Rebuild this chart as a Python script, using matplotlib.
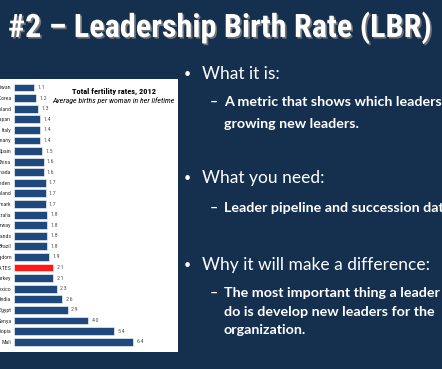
"""Slide: Leadership Birth Rate, with a fertility-rate bar chart on the left."""

import matplotlib

matplotlib.use("Agg")
import matplotlib.patheffects as pe
import matplotlib.pyplot as plt
import numpy as np
from matplotlib import font_manager
from matplotlib.patches import Rectangle

countries = [
    "Taiwan", "South Korea", "Poland", "Japan", "Italy", "Germany", "Spain",
    "China", "Canada", "Sweden", "Finland", "Denmark", "Australia", "Norway",
    "Netherlands", "Brazil", "United Kingdom", "UNITED STATES", "Turkey",
    "Mexico", "India", "Egypt", "Kenya", "Ethiopia", "Mali",
]
rates = [
    1.1, 1.2, 1.3, 1.4, 1.4, 1.4, 1.5, 1.6, 1.6, 1.7, 1.7, 1.7, 1.8, 1.8,
    1.8, 1.8, 1.9, 2.1, 2.1, 2.3, 2.6, 2.9, 4.0, 5.4, 6.4,
]
highlight = "UNITED STATES"

slide_title = "#2 \u2013 Leadership Birth Rate (LBR)"
chart_title = "Total fertility rates, 2012"
chart_subtitle = "Average births per woman in her lifetime"
bullets = [
    ("What it is:", ["A metric that shows which leaders are", "growing new leaders."]),
    ("What you need:", ["Leader pipeline and succession data"]),
    ("Why it will make a difference:", [
        "The most important thing a leader can",
        "do is develop new leaders for the",
        "organization.",
    ]),
]

NAVY = "#15304F"
BAR_BLUE = "#1F497D"
BAR_RED = "#FF1A1A"
W, H = 442, 369


def pick_font(candidates):
    for name in candidates:
        try:
            font_manager.findfont(font_manager.FontProperties(family=name),
                                  fallback_to_default=False)
            return name
        except ValueError:
            continue
    return "DejaVu Sans"


narrow = pick_font(["Roboto Condensed", "Liberation Sans Narrow", "DejaVu Sans"])
body = pick_font(["Lato", "Open Sans", "Noto Sans"])


def fx(px):
    return px / W


def fy(px):
    return 1 - px / H


fig = plt.figure(figsize=(W / 100, H / 100), dpi=100, facecolor=NAVY)

# white chart panel, kept behind the bars
fig.patches.append(Rectangle((0, fy(352)), fx(178), (352 - 79) / H,
                             transform=fig.transFigure, facecolor="white",
                             edgecolor="none", zorder=-1))

ax = fig.add_axes([fx(14), fy(347), fx(158), (347 - 82.2) / H])
ax.patch.set_alpha(0)
for spine in ax.spines.values():
    spine.set_visible(False)

y = np.arange(len(countries))
colors = [BAR_RED if c == highlight else BAR_BLUE for c in countries]
ax.barh(y, rates, height=0.74, color=colors, edgecolor="white", linewidth=0.4)
ax.set_ylim(len(countries) - 0.5, -0.5)
ax.set_xlim(0, 158 / 18.6)
ax.set_xticks([])
ax.set_yticks(y, countries, fontsize=4.2, family=narrow, color="#333333")
ax.tick_params(axis="y", length=0, pad=2)
for i, v in enumerate(rates):
    ax.text(v + 0.17, i, f"{v:.1f}", va="center", ha="left",
            fontsize=4.3, family=narrow, color="#555555")

fig.text(fx(114), fy(91.5), chart_title, ha="center", va="center",
         fontsize=6.0, weight="bold", family=narrow, color="black")
fig.text(fx(113), fy(100.5), chart_subtitle, ha="center", va="center",
         fontsize=5.7, style="italic", family=narrow, color="black")

# slide title, shrunk to the width it takes on the slide
title = fig.text(fx(220), fy(28), slide_title, ha="center", va="center",
                 fontsize=26, weight="heavy", family=narrow, color="white",
                 path_effects=[pe.withSimplePatchShadow(offset=(1.2, -1.2),
                                                        shadow_rgbFace="#7a7a7a",
                                                        alpha=0.9)])
fig.canvas.draw()
width = title.get_window_extent().width
title.set_fontsize(26 * 425 / width)

rows = [74, 178, 265]
sub_rows = [[102, 124], [208], [293, 312, 330]]
for (head, lines), top, subs in zip(bullets, rows, sub_rows):
    fig.text(fx(187), fy(top), "\u2022", ha="center", va="center",
             fontsize=9, color="white", family=body)
    fig.text(fx(202), fy(top), head, ha="left", va="center",
             fontsize=12.5, color="white", family=body)
    for k, (line, py) in enumerate(zip(lines, subs)):
        if k == 0:
            fig.text(fx(210), fy(py), "\u2013", ha="left", va="center",
                     fontsize=10.3, color="white", family=body, weight="bold")
        fig.text(fx(224), fy(py), line, ha="left", va="center",
                 fontsize=10.3, color="white", family=body, weight="bold")

fig.savefig("out.png", dpi=100, facecolor=NAVY)
